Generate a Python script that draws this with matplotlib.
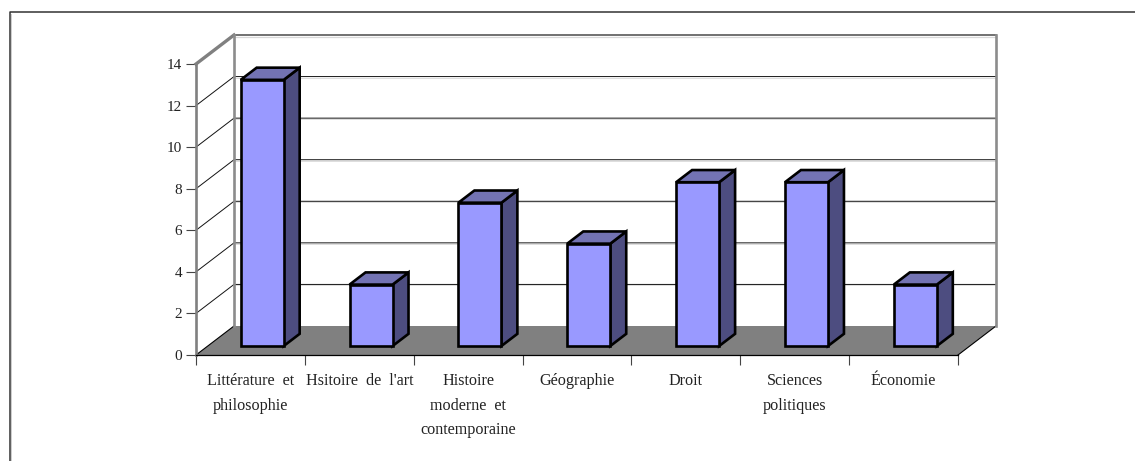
import matplotlib
matplotlib.use('Agg')
import matplotlib.pyplot as plt
from matplotlib.lines import Line2D
from matplotlib.patches import Polygon

# Values.
categories = ["Littérature  et\nphilosophie", "Hsitoire  de  l'art", "Histoire\nmoderne  et\ncontemporaine",
              "Géographie", "Droit", "Sciences\npolitiques", "Économie"]
values = [13, 3, 7, 5, 8, 8, 3]
y_ticks = [0, 2, 4, 6, 8, 10, 12, 14]

plt.rcParams['font.family'] = ['Liberation Serif', 'DejaVu Serif']

W, H = 1135, 461
fig = plt.figure(figsize=(W / 100, H / 100), dpi=100, facecolor='white')
ax = fig.add_axes([196 / W, (H - 355) / H, 762 / W, 291 / H])
ax.set_xlim(0, len(values))
ax.set_ylim(0, 14)
ax.patch.set_visible(False)

# Oblique depth of the fake 3D box, in data units.
DX = 38 / (762 / 7)
DY = 29 / (291 / 14)


def depth(x, y, d=1.0):
    # Move a point backwards into the 3D box.
    return x + d * DX, y + d * DY


n = len(values)
# Floor.
ax.add_patch(Polygon([(0, 0), (n, 0), depth(n, 0), depth(0, 0)], closed=True, facecolor='#808080',
                     edgecolor='none', clip_on=False, zorder=1))
ax.plot(*zip((n, 0), depth(n, 0)), color='black', lw=0.8, clip_on=False, zorder=2)
ax.plot(*zip((0, 0), depth(0, 0)), color='black', lw=0.8, clip_on=False, zorder=2)

# Gridlines on the side wall and back wall.
for t in y_ticks[1:-1]:
    bx, by = depth(0, t)
    ex, ey = depth(n, t)
    ax.plot([bx, ex], [by - 0.05, ey - 0.05], color='#dddddd', lw=0.7, clip_on=False, zorder=1)
    ax.plot([0, bx, ex], [t, by, ey], color='#111111', lw=0.7, clip_on=False, zorder=2)

# Wall edges.
bx, by = depth(0, 14)
ex, ey = depth(n, 14)
bx0, by0 = depth(0, 0)
ex0, ey0 = depth(n, 0)
ax.plot([bx, ex], [by - 0.1, ey - 0.1], color='#d8d8d8', lw=0.9, clip_on=False, zorder=2)
ax.plot([bx, ex], [by, ey], color='#666666', lw=1.3, clip_on=False, zorder=3)
ax.plot([0, bx], [14, by], color='#808080', lw=2.4, clip_on=False, zorder=3)
ax.plot([bx0, bx], [by0, by], color='#8c8c8c', lw=1.9, clip_on=False, zorder=3)
ax.plot([ex0, ex], [ey0, ey], color='#8c8c8c', lw=1.9, clip_on=False, zorder=3)

# Bars: front face through ax.bar, side and top built from the same values.
FRONT, BACK = 0.31, 0.73
BAR_W = 0.395
BAR_SCALE = 0.985  # bars in the picture run a little short of the wall scale
for i, v in enumerate(values):
    h = v * BAR_SCALE
    xc = i + 0.5 + FRONT * DX
    base = FRONT * DY
    x0, x1 = xc - BAR_W / 2, xc + BAR_W / 2
    dd = BACK - FRONT
    side = [(x1, base), (x1 + dd * DX, base + dd * DY), (x1 + dd * DX, base + h + dd * DY), (x1, base + h)]
    top = [(x0, base + h), (x1, base + h), (x1 + dd * DX, base + h + dd * DY), (x0 + dd * DX, base + h + dd * DY)]
    ax.add_patch(Polygon(side, closed=True, facecolor='#4d4d80', edgecolor='black', lw=1.9,
                         joinstyle='miter', clip_on=False, zorder=4))
    ax.add_patch(Polygon(top, closed=True, facecolor='#7373b3', edgecolor='black', lw=1.9,
                         joinstyle='miter', clip_on=False, zorder=4))
    ax.bar(xc, h, width=BAR_W, bottom=base, color='#9999ff', edgecolor='black', lw=1.9,
           clip_on=False, zorder=5)

# Axes.
for s in ['top', 'right']:
    ax.spines[s].set_visible(False)
ax.spines['left'].set_color('#808080')
ax.spines['left'].set_linewidth(1.9)
ax.spines['bottom'].set_color('black')
ax.spines['bottom'].set_linewidth(0.9)
ax.spines['bottom'].set_zorder(3)
ax.set_yticks(y_ticks)
ax.set_yticklabels([str(t) for t in y_ticks], fontsize=11, color='#222222')
ax.tick_params(axis='y', length=7, width=0.8, color='#444444', pad=3)
ax.set_xticks(range(n + 1))
ax.set_xticklabels([])
ax.tick_params(axis='x', which='major', length=7, width=0.8, color='#444444')
ax.set_xticks([i + 0.5 for i in range(n)], minor=True)
ax.set_xticklabels(categories, minor=True, fontsize=11.6, color='#222222', linespacing=1.72)
ax.tick_params(axis='x', which='minor', length=0, pad=13)

# Outer frame, open at the bottom and right.
frame_x = [9.5 / W, 9.5 / W, 1]
frame_y = [0, (H - 12.5) / H, (H - 12.5) / H]
fig.add_artist(Line2D([10.5 / W, 10.5 / W], [0, (H - 14) / H], color='#cccccc', lw=0.7))
fig.add_artist(Line2D(frame_x, frame_y, color='#333333', lw=1.1))

plt.savefig('out.png', dpi=100)
